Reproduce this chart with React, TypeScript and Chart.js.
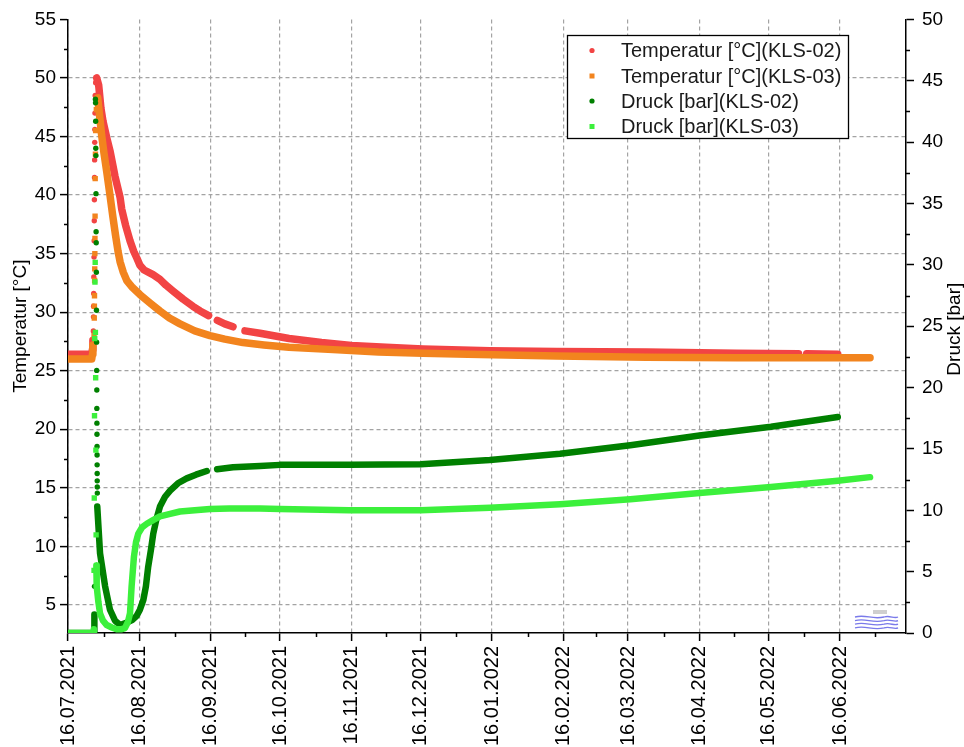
import React, { useEffect, useRef } from "react";
import { Chart, registerables } from "chart.js";
Chart.register(...registerables);

const FONT = "'Liberation Sans', Arial, Helvetica, sans-serif";

// ---- tick labels ----
const tickLabels = [
  "16.07.2021", "16.08.2021", "16.09.2021", "16.10.2021", "16.11.2021", "16.12.2021",
  "16.01.2022", "16.02.2022", "16.03.2022", "16.04.2022", "16.05.2022", "16.06.2022",
];
const axisEndLabel = "16.07.2022";
const leftTicks = [5, 10, 15, 20, 25, 30, 35, 40, 45, 50, 55];
const leftMinor = [7.5, 12.5, 17.5, 22.5, 27.5, 32.5, 37.5, 42.5, 47.5, 52.5];
const rightMinor = [2.5, 7.5, 12.5, 17.5, 22.5, 27.5, 32.5, 37.5, 42.5, 47.5];
const seriesNames = [
  "Temperatur [°C](KLS-02)",
  "Temperatur [°C](KLS-03)",
  "Druck [bar](KLS-02)",
  "Druck [bar](KLS-03)",
];
const seriesColors = ["#f24444", "#f2841e", "#008000", "#3cf03c"];

// ---- data: x = days since 16.07.2021 ----
// Temperatur KLS-02
const redDays = [0, 5, 10.3, 10.6, 10.8, 11.0, 12.45, 13.3, 14.3, 15.2, 16.8, 18.2, 20.4, 22.6, 23.3, 25, 26.9, 28.5, 29.9, 31.2, 33, 35, 36.9, 39.9, 42.5, 45.6, 50, 54.2, 57.3, 61.0, 62.8, 64.8, 68, 71.6, 74.5, 76.8, 83.3, 95.9, 110, 123, 138, 154, 183, 212, 251, 290, 317, 319, 320.5, 334];
const redTemps = [26.4, 26.4, 26.4, 26.8, 27.6, null, 50.0, 49.4, 47.4, 46.3, 44.9, 43.8, 41.6, 39.8, 38.8, 37.4, 36.1, 35.2, 34.6, 34.0, 33.6, 33.4, 33.2, 32.8, 32.3, 31.8, 31.1, 30.5, 30.1, 29.7, null, 29.3, 29.0, 28.75, null, 28.4, 28.2, 27.75, 27.4, 27.15, 27.0, 26.85, 26.7, 26.65, 26.6, 26.5, 26.45, null, 26.45, 26.4];
const redSpikeDays = [11.0, 11.05, 11.1, 11.15, 11.2, 11.3, 11.35, 11.4, 11.45, 11.5, 11.55, 11.6, 11.65, 11.7, 11.8, 12.0];
const redSpikeTemps = [28.4, 29.6, 30.5, 31.6, 33.0, 34.7, 36.1, 37.8, 39.6, 41.5, 43.0, 44.5, 45.6, 47.0, 48.5, 49.6];

// Temperatur KLS-03
const orangeDays = [0, 5, 10.3, 10.6, 10.8, 11.0, 12.9, 13.8, 14.6, 15.6, 16.8, 18.2, 19.5, 20.6, 21.7, 22.6, 24.0, 25.5, 28, 31.2, 35.5, 39.9, 44, 48.6, 55, 61.6, 68, 75.9, 85, 95.9, 115, 134.8, 154, 173.6, 212, 251, 290, 320, 348];
const orangeTemps = [26.0, 26.0, 26.0, 26.4, 27.2, null, 48.3, 46.6, 45.1, 43.6, 42.0, 40.0, 38.1, 36.6, 35.2, 34.3, 33.4, 32.7, 32.1, 31.5, 30.8, 30.1, 29.5, 29.0, 28.4, 28.0, 27.7, 27.4, 27.2, 27.0, 26.8, 26.6, 26.5, 26.4, 26.25, 26.15, 26.1, 26.1, 26.1];
const orangeSpikeDays = [11.3, 11.4, 11.45, 11.5, 11.55, 11.6, 11.65, 11.7, 11.75, 11.8, 11.9, 12.0, 12.3];
const orangeSpikeTemps = [28.0, 29.5, 30.5, 31.4, 32.7, 33.7, 35.0, 36.3, 38.2, 41.4, 43.5, 45.5, 47.3];

// Druck KLS-02
const dkDays = [0, 5, 11.3, 11.45, 11.6, 12.7, 13.9, 16.1, 18.2, 20.4, 22.6, 25.5, 27.8, 29.8, 31.2, 32.7, 33.8, 34.8, 36.0, 37.0, 38.4, 39.9, 42.1, 44.3, 47.7, 51.5, 55.5, 60.2, 62.3, 64.7, 71.6, 83.3, 92, 122, 153, 183, 213.5, 244, 274, 305, 334];
const dkBar = [0, 0, 0, 1.5, null, 10.3, 6.5, 3.8, 1.9, 1.0, 0.65, 0.84, 1.05, 1.4, 1.9, 2.7, 3.8, 5.4, 6.8, 8.1, 9.3, 10.3, 11.1, 11.6, 12.2, 12.6, 12.9, 13.2, null, 13.35, 13.5, 13.6, 13.7, 13.7, 13.75, 14.1, 14.6, 15.3, 16.1, 16.8, 17.6];
const dkSpikeDays = [11.5, 11.9, 11.95, 12.0, 12.05, 12.1, 12.15, 12.2, 12.25, 12.3, 12.35, 12.4, 12.45, 12.5, 12.52, 12.55, 12.58, 12.6, 12.62, 12.64, 12.66, 12.68, 12.7, 12.72];
const dkSpikeBar = [3.8, 43.5, 43.2, 41.7, 39.5, 38.9, 35.8, 32.7, 31.8, 29.4, 26.3, 23.7, 21.4, 19.8, 18.3, 17.1, 16.2, 15.2, 14.5, 13.7, 13.0, 12.4, 11.9, 11.4];

// Druck KLS-03
const ltDays = [0, 5, 11.0, 11.2, 11.3, 12.3, 12.45, 13.2, 13.9, 15.2, 16.8, 19, 21.1, 23, 24.7, 26.0, 26.9, 27.6, 28.6, 29.5, 30.5, 32.1, 34.2, 36.9, 39.9, 44.3, 48.6, 55, 61.6, 70, 83.3, 92, 122, 153, 183, 213.5, 244, 274, 305, 334, 348];
const ltBar = [0, 0, 0, 0.3, null, 5.5, 3.8, 2.5, 1.6, 1.0, 0.65, 0.45, 0.3, 0.3, 0.4, 0.9, 1.6, 3.8, 6.2, 7.4, 8.1, 8.6, 8.9, 9.2, 9.5, 9.7, 9.9, 10.0, 10.1, 10.15, 10.15, 10.1, 10.0, 10.0, 10.2, 10.5, 10.9, 11.4, 11.9, 12.4, 12.7];
const ltSpikeDays = [11.3, 11.4, 11.5, 11.6, 11.7, 11.8, 11.9, 12.0, 12.1, 12.2];
const ltSpikeBar = [5.1, 11.0, 17.7, 24.0, 28.6, 30.2, 24.5, 20.8, 14.9, 8.0];

// ---- helpers ----
const START = Date.UTC(2021, 6, 16);
const toDay = (s: string) => {
  const [d, m, y] = s.split(".").map(Number);
  return (Date.UTC(y, m - 1, d) - START) / 86400000;
};
const xTicks = tickLabels.map(toDay);
const xAll = [...xTicks, toDay(axisEndLabel)];
const xMinor = xAll.slice(1).map((v, i) => (v + xAll[i]) / 2);
const X_MAX = 363.6;
const zip = (xs: number[], ys: (number | null)[]) => xs.map((x, i) => ({ x, y: ys[i] }));

const GRID = "#a3a3a3";

const overlay = {
  id: "overlay",
  afterDraw(chart: any) {
    const { ctx, chartArea: a, scales } = chart;
    const sx = scales.x, sy = scales.y, sy1 = scales.y1;
    ctx.save();
    ctx.strokeStyle = "#000";
    ctx.lineWidth = 1.5;
    ctx.beginPath();
    for (const v of xMinor) {
      const p = Math.round(sx.getPixelForValue(v)) + 0.5;
      ctx.moveTo(p, a.bottom);
      ctx.lineTo(p, a.bottom + 4);
    }
    for (const v of leftMinor) {
      const p = Math.round(sy.getPixelForValue(v)) + 0.5;
      ctx.moveTo(a.left, p);
      ctx.lineTo(a.left - 4, p);
    }
    for (const v of rightMinor) {
      const p = Math.round(sy1.getPixelForValue(v)) + 0.5;
      ctx.moveTo(a.right, p);
      ctx.lineTo(a.right + 4, p);
    }
    ctx.stroke();

    // right axis title (reads bottom to top)
    ctx.fillStyle = "#000";
    ctx.font = `19px ${FONT}`;
    ctx.textAlign = "center";
    ctx.textBaseline = "middle";
    ctx.translate(955, (a.top + a.bottom) / 2 + 3);
    ctx.rotate(-Math.PI / 2);
    ctx.fillText("Druck [bar]", 0, 0);
    ctx.setTransform(1, 0, 0, 1, 0, 0);

    // legend box
    const lx = 567, ly = 35, lw = 281, lh = 103;
    ctx.fillStyle = "#fff";
    ctx.fillRect(lx, ly, lw, lh);
    ctx.strokeStyle = "#000";
    ctx.lineWidth = 1.3;
    ctx.strokeRect(lx + 0.5, ly + 0.5, lw, lh);
    const rows = [50.5, 76, 101, 126.5];
    ctx.font = `20px ${FONT}`;
    ctx.textAlign = "left";
    ctx.textBaseline = "middle";
    seriesNames.forEach((name, i) => {
      ctx.fillStyle = seriesColors[i];
      if (i % 2 === 0) {
        ctx.beginPath();
        ctx.arc(592, rows[i], 2.6, 0, Math.PI * 2);
        ctx.fill();
      } else {
        ctx.fillRect(589.5, rows[i] - 2.5, 5, 5);
      }
      ctx.fillStyle = "#1a1a1a";
      ctx.fillText(name, 621, rows[i] + 1);
    });

    // small logo watermark
    ctx.strokeStyle = "#7a7aea";
    ctx.lineWidth = 1.3;
    for (let k = 0; k < 4; k++) {
      const yy = 617 + k * 3.6;
      ctx.beginPath();
      ctx.moveTo(855, yy);
      ctx.bezierCurveTo(866, yy - 3, 872, yy + 3, 884, yy);
      ctx.bezierCurveTo(890, yy - 2, 894, yy + 2, 898, yy);
      ctx.stroke();
    }
    ctx.fillStyle = "#cfcfcf";
    ctx.fillRect(873, 610, 14, 4);
    ctx.restore();
  },
};

function curve(label: string, xs: number[], ys: (number | null)[], color: string, axis: string, w: number) {
  return {
    label,
    data: zip(xs, ys),
    yAxisID: axis,
    borderColor: color,
    backgroundColor: color,
    borderWidth: w,
    borderCapStyle: "round",
    borderJoinStyle: "round",
    pointRadius: 0,
    tension: 0,
    spanGaps: false,
    showLine: true,
  };
}
function dots(label: string, xs: number[], ys: number[], color: string, axis: string, style: string) {
  return {
    label,
    data: zip(xs, ys),
    yAxisID: axis,
    borderColor: color,
    backgroundColor: color,
    pointBackgroundColor: color,
    pointBorderWidth: 0,
    pointStyle: style,
    pointRadius: style === "rect" ? 3.8 : 2.7,
    showLine: false,
  };
}

export default function App() {
  const ref = useRef<HTMLCanvasElement | null>(null);
  useEffect(() => {
    if (!ref.current) return;
    Chart.defaults.font.family = FONT;
    Chart.defaults.color = "#000";
    const datasets: any[] = [
      dots(seriesNames[3], ltSpikeDays, ltSpikeBar, seriesColors[3], "y1", "rect"),
      curve(seriesNames[3], ltDays, ltBar, seriesColors[3], "y1", 6.5),
      dots(seriesNames[2], dkSpikeDays, dkSpikeBar, seriesColors[2], "y1", "circle"),
      curve(seriesNames[2], dkDays, dkBar, seriesColors[2], "y1", 6.5),
      dots(seriesNames[1], orangeSpikeDays, orangeSpikeTemps, seriesColors[1], "y", "rect"),
      curve(seriesNames[1], orangeDays, orangeTemps, seriesColors[1], "y", 7.5),
      dots(seriesNames[0], redSpikeDays, redSpikeTemps, seriesColors[0], "y", "circle"),
      curve(seriesNames[0], redDays, redTemps, seriesColors[0], "y", 7.5),
    ];
    const chart = new Chart(ref.current, {
      type: "line",
      data: { datasets },
      plugins: [overlay],
      options: {
        animation: false,
        responsive: false,
        events: [],
        layout: { padding: { top: 18, left: 0, right: 0, bottom: 0 } },
        plugins: { legend: { display: false }, tooltip: { enabled: false } },
        scales: {
          x: {
            type: "linear",
            position: "bottom",
            min: 0,
            max: X_MAX,
            afterBuildTicks: (s: any) => {
              s.ticks = xTicks.map((v) => ({ value: v }));
            },
            afterFit: (s: any) => {
              s.height = 114;
            },
            ticks: {
              autoSkip: false,
              minRotation: 90,
              maxRotation: 90,
              padding: 5,
              color: "#000",
              font: { size: 20, family: FONT },
              callback: (v: any) => {
                const i = xTicks.findIndex((t) => Math.abs(t - v) < 0.01);
                return i >= 0 ? tickLabels[i] : "";
              },
            },
            grid: {
              color: GRID,
              lineWidth: 1.2,
              tickLength: 8,
              tickColor: "#000",
              tickWidth: 1.5,
            },
            border: { display: true, color: "#000", width: 1.5, dash: [4, 3] },
          },
          y: {
            type: "linear",
            position: "left",
            min: 2.6,
            max: 55,
            afterBuildTicks: (s: any) => {
              s.ticks = leftTicks.map((v) => ({ value: v }));
            },
            afterFit: (s: any) => {
              s.width = 68;
            },
            ticks: { color: "#000", padding: 4, font: { size: 19, family: FONT } },
            grid: {
              color: (c: any) => (c.tick && c.tick.value === 55 ? "rgba(0,0,0,0)" : GRID),
              lineWidth: 1.2,
              tickLength: 8,
              tickColor: "#000",
              tickWidth: 1.5,
            },
            border: { display: true, color: "#000", width: 1.5, dash: [4, 3] },
            title: {
              display: true,
              text: "Temperatur [°C]",
              color: "#000",
              font: { size: 19, family: FONT },
              padding: { top: 9, bottom: 0 },
            },
          },
          y1: {
            type: "linear",
            position: "right",
            min: 0,
            max: 50,
            afterBuildTicks: (s: any) => {
              const t = [];
              for (let v = 0; v <= 50; v += 5) t.push({ value: v });
              s.ticks = t;
            },
            afterFit: (s: any) => {
              s.width = 58;
            },
            ticks: { color: "#000", padding: 8, font: { size: 19, family: FONT } },
            grid: {
              drawOnChartArea: false,
              tickLength: 8,
              tickColor: "#000",
              tickWidth: 1.5,
              color: "#000",
            },
            border: { display: true, color: "#000", width: 1.5 },
          },
        },
      },
    } as any);
    return () => chart.destroy();
  }, []);
  return (
    <div style={{ position: "fixed", left: 0, top: 0, width: 964, height: 747, background: "#fff" }}>
      <canvas ref={ref} width={964} height={747} style={{ display: "block", width: 964, height: 747 }} />
    </div>
  );
}
